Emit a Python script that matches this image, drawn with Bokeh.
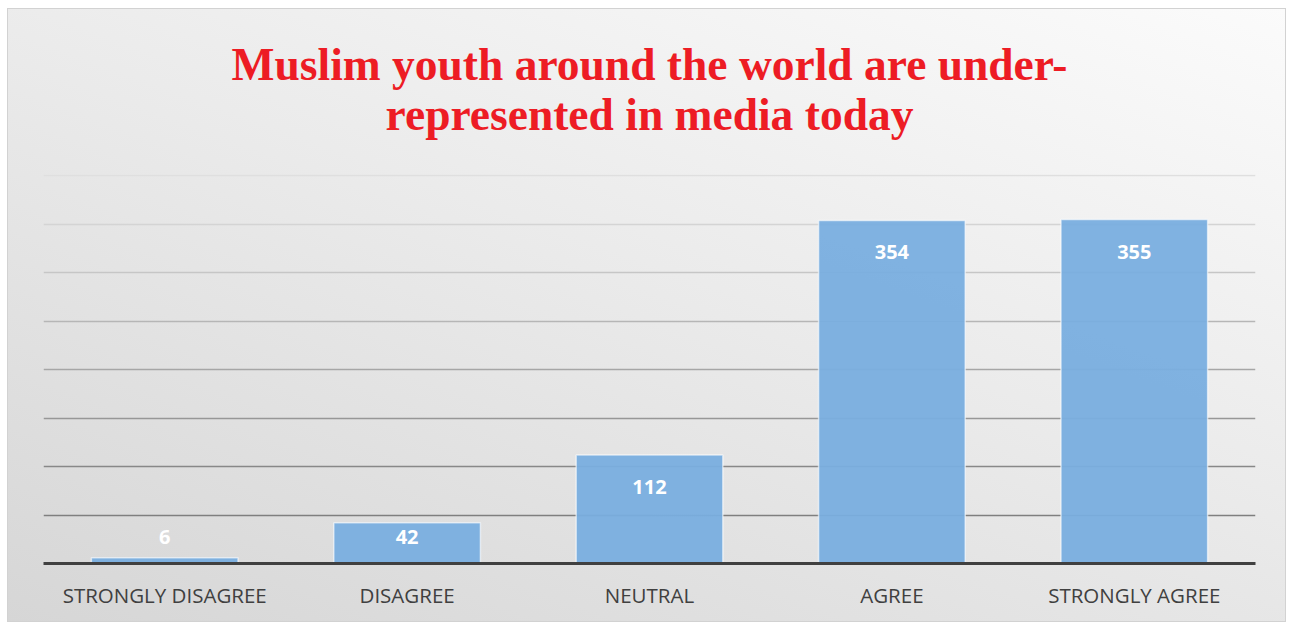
from bokeh.plotting import figure
from bokeh.models import ColumnDataSource, Title, Grid, FixedTicker, Range1d, FactorRange
from bokeh.core.properties import value
from bokeh.embed import file_html
from bokeh.resources import INLINE

categories = ["STRONGLY DISAGREE", "DISAGREE", "NEUTRAL", "AGREE", "STRONGLY AGREE"]
counts = [6, 42, 112, 354, 355]
grid_values = [50, 100, 150, 200, 250, 300, 350, 400]
grid_colors = ["#7f7f7f", "#888888", "#979797", "#a6a6a6", "#b6b6b6", "#c6c6c6", "#d4d4d4", "#dfdfdf"]
title_lines = ["Muslim youth around the world are under-", "represented in media today"]

label_y = [max(v - 33, 27) for v in counts]
src = ColumnDataSource(dict(cat=categories, val=counts, ly=label_y, txt=[str(v) for v in counts]))

p = figure(width=1279, height=614, x_range=FactorRange(*categories), y_range=Range1d(0, 401.5),
           output_backend="svg", toolbar_location=None,
           min_border_left=36, min_border_right=31, min_border_bottom=59, min_border_top=166)
p.border_fill_color = None
p.background_fill_color = None
p.outline_line_color = None
p.styles = {"background": "linear-gradient(200deg, #fbfbfb 0%, #ebebeb 45%, #d6d6d6 100%)",
            "box-shadow": "inset 0 0 0 1px #d2d2d2",
            "margin-left": "7px", "margin-top": "8px"}

title_style = dict(align="center", text_font="Liberation Serif", text_font_size="45.5px",
                   text_font_style="bold", text_color="#ed1c24")
p.title = Title(text=title_lines[0], standoff=-76, **title_style)
p.add_layout(Title(text=title_lines[1], standoff=70, **title_style), "above")

p.xgrid.visible = False
p.ygrid.visible = False
for v, c in zip(grid_values, grid_colors):
    g = Grid(dimension=1, ticker=FixedTicker(ticks=[v]), grid_line_color=c, grid_line_width=1.5)
    p.add_layout(g, "center")

p.vbar(x="cat", top="val", width=0.605, source=src, fill_color="#79aedf", fill_alpha=0.95,
       line_color="#ffffff", line_alpha=0.6, line_width=1.5)
p.text(x="cat", y="ly", text="txt", source=src, text_color="white", text_font=value("Open Sans"),
       text_font_style="bold", text_font_size="20px", text_align="center", text_baseline="middle")

p.yaxis.visible = False
xa = p.xaxis[0]
xa.axis_line_color = "#404040"
xa.axis_line_width = 3
xa.major_tick_line_color = None
xa.minor_tick_line_color = None
xa.major_label_text_font = "Open Sans"
xa.major_label_text_font_size = "20.5px"
xa.major_label_text_color = "#404040"
xa.major_label_standoff = 11

open("out.html", "w").write(file_html(p, INLINE))
